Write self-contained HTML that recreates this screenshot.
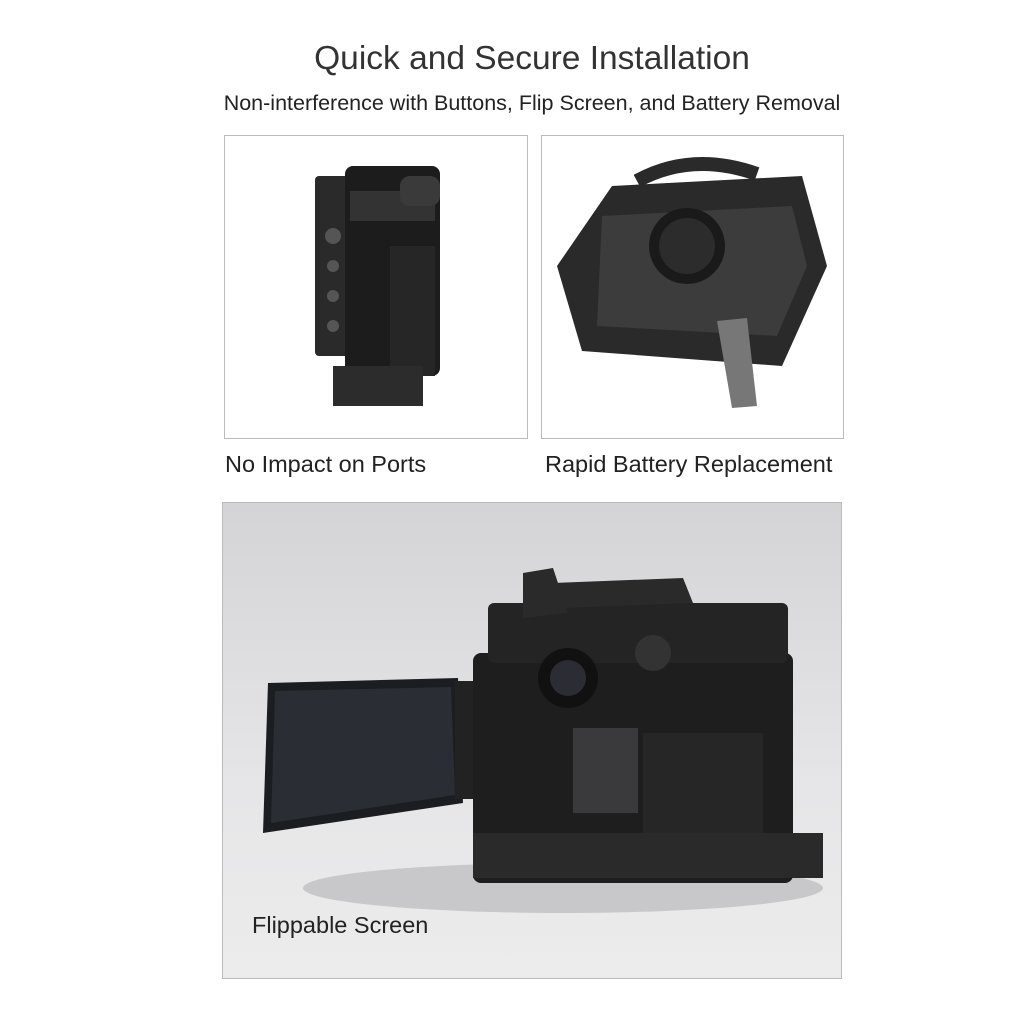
<!DOCTYPE html>
<html><head><style>
body{margin:0;width:1024px;height:1024px;background:#fff;position:relative;font-family:"Liberation Sans",sans-serif;color:#222;overflow:hidden}
.t{position:absolute;left:20px;width:1024px;text-align:center}
.box{position:absolute;border:1px solid #bbb;box-sizing:border-box;overflow:hidden}
.lbl{position:absolute;font-size:23.5px;color:#222}
</style></head><body>
<div class="t" style="top:40px;font-size:33.5px;color:#333">Quick and Secure Installation</div>
<div class="t" style="top:91px;font-size:21.5px">Non-interference with Buttons, Flip Screen, and Battery Removal</div>

<div class="box" style="left:224px;top:135px;width:304px;height:304px;background:#fff">
<svg width="304" height="304">
<rect x="90" y="40" width="35" height="180" rx="4" fill="#2a2a2a"/>
<rect x="120" y="30" width="95" height="210" rx="8" fill="#1c1c1c"/>
<rect x="125" y="55" width="85" height="30" fill="#333"/>
<rect x="165" y="110" width="45" height="130" fill="#262626"/>
<rect x="108" y="230" width="90" height="40" fill="#2c2c2c"/>
<circle cx="108" cy="100" r="8" fill="#555"/><circle cx="108" cy="130" r="6" fill="#555"/>
<circle cx="108" cy="160" r="6" fill="#555"/><circle cx="108" cy="190" r="6" fill="#555"/>
<rect x="175" y="40" width="40" height="30" rx="10" fill="#3a3a3a"/>
</svg></div>
<div class="box" style="left:541px;top:135px;width:303px;height:304px;background:#fff">
<svg width="303" height="304">
<path d="M15 130 L70 50 L260 40 L285 130 L240 230 L40 215 Z" fill="#2a2a2a"/>
<path d="M60 80 L250 70 L265 130 L235 200 L55 190 Z" fill="#3c3c3c"/>
<circle cx="145" cy="110" r="38" fill="#1a1a1a"/>
<circle cx="145" cy="110" r="28" fill="#2c2c2c"/>
<path d="M175 185 L205 182 L215 270 L190 272 Z" fill="#777"/>
<path d="M95 45 Q150 15 215 38" stroke="#2a2a2a" stroke-width="14" fill="none"/>
</svg></div>
<div class="lbl" style="left:225px;top:451px">No Impact on Ports</div>
<div class="lbl" style="left:545px;top:451px">Rapid Battery Replacement</div>

<div class="box" style="left:222px;top:502px;width:620px;height:477px;background:linear-gradient(#d4d4d6,#e6e6e8 60%,#ececec)">
<svg width="620" height="477">
<ellipse cx="340" cy="385" rx="260" ry="25" fill="#c8c8ca"/>
<path d="M45 180 L235 175 L240 300 L40 330 Z" fill="#1b1d20"/>
<path d="M52 188 L228 184 L232 292 L48 320 Z" fill="#2a2e34"/>
<rect x="232" y="178" width="20" height="118" fill="#222"/>
<rect x="250" y="150" width="320" height="230" rx="8" fill="#1e1e1e"/>
<rect x="265" y="100" width="300" height="60" rx="6" fill="#242424"/>
<path d="M300 70 L330 65 L345 110 L300 115 Z" fill="#2a2a2a"/>
<path d="M330 80 L460 75 L470 100 L340 105 Z" fill="#2a2a2a"/>
<circle cx="345" cy="175" r="30" fill="#111"/><circle cx="345" cy="175" r="18" fill="#2c2c34"/>
<rect x="350" y="225" width="65" height="85" fill="#3a3a3c"/>
<circle cx="450" cy="285" r="18" fill="#151515"/>
<circle cx="430" cy="150" r="18" fill="#333"/>
<rect x="420" y="230" width="120" height="140" fill="#262626"/>
<rect x="250" y="330" width="350" height="45" fill="#2a2a2a"/>
</svg></div>
<div class="lbl" style="left:252px;top:912px">Flippable Screen</div>
</body></html>
